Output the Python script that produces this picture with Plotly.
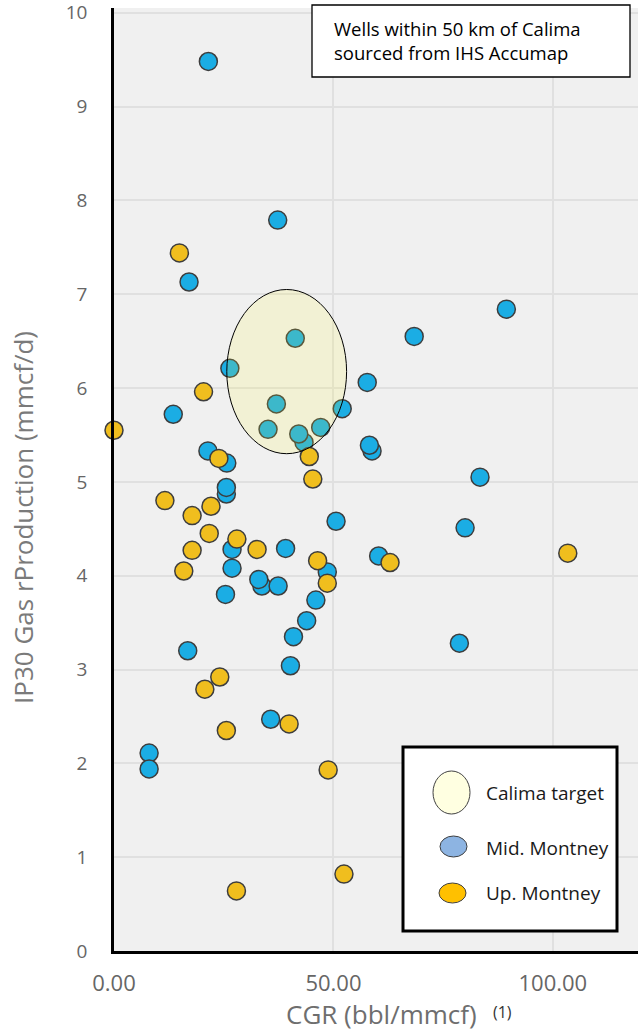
import plotly.graph_objects as go

# ---- data ----
mid_cgr = [21.5, 37.3, 17.1, 89.4, 68.4, 41.3, 26.4, 57.7, 37.0, 13.5, 52.0, 35.1, 47.1,
           43.3, 42.1, 58.8, 58.2, 21.4, 25.7, 83.4, 25.6, 25.6, 50.6, 80.0, 26.9, 39.1,
           60.3, 26.9, 48.6, 33.7, 33.0, 37.4, 25.4, 46.0, 43.9, 40.9, 78.7, 16.8, 40.2,
           35.7, 8.0, 8.0]
mid_ip30 = [9.48, 7.79, 7.13, 6.84, 6.55, 6.53, 6.21, 6.06, 5.83, 5.72, 5.78, 5.56, 5.58,
            5.42, 5.51, 5.33, 5.39, 5.33, 5.20, 5.05, 4.87, 4.94, 4.58, 4.51, 4.28, 4.29,
            4.21, 4.08, 4.04, 3.89, 3.96, 3.89, 3.80, 3.74, 3.52, 3.35, 3.28, 3.20, 3.04,
            2.47, 2.11, 1.94]

up_cgr = [14.9, 20.4, 0.0, 23.9, 44.5, 45.3, 11.6, 22.1, 17.8, 21.7, 28.0, 17.8, 32.6,
          15.9, 46.4, 62.9, 103.4, 48.6, 24.1, 20.7, 39.9, 25.6, 48.8, 27.9, 52.4]
up_ip30 = [7.44, 5.96, 5.55, 5.25, 5.27, 5.03, 4.80, 4.74, 4.64, 4.45, 4.39, 4.27, 4.28,
           4.05, 4.16, 4.14, 4.24, 3.92, 2.92, 2.79, 2.42, 2.35, 1.93, 0.64, 0.82]

target_cgr = [25.7, 53.0]     # Calima target extent (CGR)
target_ip30 = [5.30, 7.05]    # Calima target extent (IP30)

x_ticks = [0, 50, 100]
y_ticks = list(range(0, 11))

legend_labels = ["Calima target", "Mid. Montney", "Up. Montney"]
note_text = "Wells within 50 km of Calima<br>sourced from IHS Accumap"

# ---- figure ----
W, H = 638, 1031
ML, MR, MT, MB = 114, 0, 8, 80
PW, PH = W - ML - MR, H - MT - MB


def px(xpix):
    return (xpix - ML) / PW


def py(ypix):
    return 1 - (ypix - MT) / PH


FONT = "Open Sans"
BLUE = "#1BADE4"
ORANGE = "#F0BE1E"
EDGE = "#3d3d3d"

fig = go.Figure()
fig.add_trace(go.Scatter(
    x=mid_cgr, y=mid_ip30, mode="markers", name="Mid. Montney", cliponaxis=False,
    marker=dict(size=18, color=BLUE, line=dict(color=EDGE, width=1.5))))
fig.add_trace(go.Scatter(
    x=up_cgr, y=up_ip30, mode="markers", name="Up. Montney", cliponaxis=False,
    marker=dict(size=18, color=ORANGE, line=dict(color=EDGE, width=1.5))))

shapes = [
    # Calima target ellipse (data coordinates)
    dict(type="circle", xref="x", yref="y", x0=target_cgr[0], x1=target_cgr[1],
         y0=target_ip30[0], y1=target_ip30[1], fillcolor="rgba(253,247,53,0.15)",
         line=dict(color="black", width=1), layer="above"),
    # note box
    dict(type="rect", xref="paper", yref="paper", x0=px(312), x1=px(630), y0=py(77), y1=py(5),
         fillcolor="white", line=dict(color="black", width=1.3), layer="above"),
    # legend box
    dict(type="rect", xref="paper", yref="paper", x0=px(403), x1=px(617), y0=py(931), y1=py(747),
         fillcolor="white", line=dict(color="black", width=3), layer="above"),
    dict(type="circle", xref="paper", yref="paper", x0=px(433), x1=px(470), y0=py(814), y1=py(771),
         fillcolor="#FFFFE1", line=dict(color="#404040", width=1), layer="above"),
    dict(type="circle", xref="paper", yref="paper", x0=px(440), x1=px(467), y0=py(857), y1=py(836),
         fillcolor="#8DB4E2", line=dict(color="#404040", width=1), layer="above"),
    dict(type="circle", xref="paper", yref="paper", x0=px(439), x1=px(466), y0=py(903), y1=py(883),
         fillcolor="#FFC000", line=dict(color="#404040", width=1), layer="above"),
]

annotations = [
    dict(text=note_text, xref="paper", yref="paper", x=px(332), y=py(40.5), xanchor="left",
         yanchor="middle", align="left", showarrow=False,
         font=dict(family=FONT, size=18.5, color="black")),
    dict(text=legend_labels[0], xref="paper", yref="paper", x=px(484), y=py(793), xanchor="left",
         yanchor="middle", showarrow=False, font=dict(family=FONT, size=19, color="#1a1a1a")),
    dict(text=legend_labels[1], xref="paper", yref="paper", x=px(484), y=py(848), xanchor="left",
         yanchor="middle", showarrow=False, font=dict(family=FONT, size=19, color="#1a1a1a")),
    dict(text=legend_labels[2], xref="paper", yref="paper", x=px(484), y=py(893), xanchor="left",
         yanchor="middle", showarrow=False, font=dict(family=FONT, size=19, color="#1a1a1a")),
    # axis titles
    dict(text="IP30 Gas rProduction (mmcf/d)", xref="paper", yref="paper", x=px(23), y=py(518),
         xanchor="center", yanchor="middle", textangle=-90, showarrow=False,
         font=dict(family=FONT, size=26, color="#7a7a7a")),
    dict(text="CGR (bbl/mmcf)", xref="paper", yref="paper", x=px(381), y=py(1014),
         xanchor="center", yanchor="middle", showarrow=False,
         font=dict(family=FONT, size=26, color="#6e6e6e")),
    dict(text="(1)", xref="paper", yref="paper", x=px(502), y=py(1012),
         xanchor="center", yanchor="middle", showarrow=False,
         font=dict(family=FONT, size=16, color="#333333")),
]

fig.update_layout(
    template="none",
    width=W, height=H, margin=dict(l=ML, r=MR, t=MT, b=MB, pad=0, autoexpand=False),
    paper_bgcolor="white", plot_bgcolor="#F0F0F0", showlegend=False,
    shapes=shapes, annotations=annotations,
    xaxis=dict(range=[0, 119.4], tickvals=x_ticks, tickformat=".2f", showgrid=True,
               gridcolor="#E0E0E0", gridwidth=1.5, zeroline=False, showline=True,
               linecolor="black", linewidth=2.5, ticks="", ticklabelstandoff=11,
               automargin=False, ticklabeloverflow="allow",
               tickfont=dict(family=FONT, size=22, color="#666666")),
    yaxis=dict(range=[0, 10.05], tickvals=y_ticks, showgrid=True, gridcolor="#E0E0E0",
               gridwidth=1.5, zeroline=False, showline=True, linecolor="black", linewidth=2.5,
               ticks="", ticklabelstandoff=20, automargin=False, ticklabeloverflow="allow",
               tickfont=dict(family=FONT, size=19, color="#666666")),
)

fig.write_html("out.html", config={"displayModeBar": False},
               post_script="document.body.style.margin='0';document.body.style.padding='0';")
